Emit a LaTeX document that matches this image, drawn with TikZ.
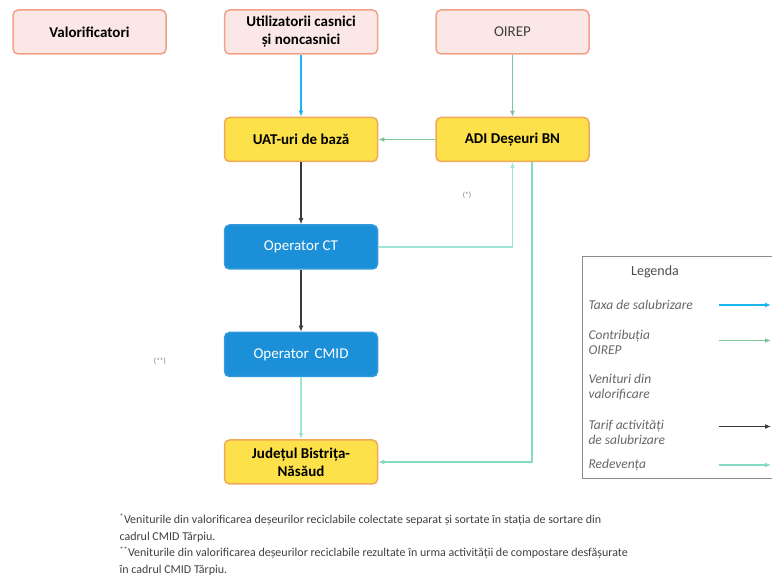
\documentclass[tikz,border=0pt]{standalone}
\usepackage{fontspec}
\setmainfont{Carlito}
\usetikzlibrary{positioning,arrows.meta}

\definecolor{pinkfill}{HTML}{FBE8E6}
\definecolor{pinkline}{HTML}{F2A187}
\definecolor{yelfill}{HTML}{FCE14A}
\definecolor{yelline}{HTML}{F0A85A}
\definecolor{bluefill}{HTML}{1C8FD9}
\definecolor{taxacol}{HTML}{1BB4EE}
\definecolor{oirepcol}{HTML}{7CC49C}
\definecolor{tarifcol}{HTML}{3A3A3A}
\definecolor{venitcol}{HTML}{9FE5D5}
\definecolor{redevcol}{HTML}{86D9C2}

\tikzset{
  box/.style={rounded corners=5pt, line width=1.5pt, minimum width=153pt,
    minimum height=44pt, align=center, font=\fontsize{15}{18}\selectfont},
  pinkbox/.style={box, draw=pinkline, fill=pinkfill},
  yelbox/.style={box, draw=yelline, fill=yelfill, font=\fontsize{15}{18}\selectfont\bfseries},
  bluebox/.style={box, draw=bluefill!90!white, fill=bluefill, text=white},
  flow/.style={line width=1.6pt, -{Latex[length=6pt,width=5pt]}},
  taxa/.style={flow, draw=taxacol},
  oirep/.style={flow, draw=oirepcol},
  tarif/.style={flow, draw=tarifcol},
  venit/.style={flow, draw=venitcol},
  redev/.style={flow, draw=redevcol},
  leg/.style={anchor=west, align=left, text=black!60, font=\fontsize{13.5}{15}\selectfont\itshape},
  note/.style={text=black!55, font=\fontsize{7.5}{8}\selectfont},
}

\begin{document}
\begin{tikzpicture}[node distance=62pt and 57pt]
  \useasboundingbox (0,0) rectangle (772pt,-585pt);

  % top row
  \node[pinkbox, font=\fontsize{15}{18}\selectfont\bfseries] (V) at (89.5pt,-32pt) {Valorificatori} ; %
  \node[pinkbox, font=\fontsize{15}{18}\selectfont\bfseries, right=of V] (U) {Utilizatorii casnici\\ și noncasnici} ; %
  \node[pinkbox, text=black!75, right=of U] (O) {OIREP} ; %

  % main column
  \node[yelbox, below=of U] (UAT) {UAT-uri de bază} ; %
  \node[yelbox, below=of O] (ADI) {ADI Deșeuri BN} ; %
  \node[bluebox, below=of UAT] (CT) {Operator CT} ; %
  \node[bluebox, below=of CT] (CMID) {Operator\, CMID} ; %
  \node[yelbox, below=of CMID] (J) {Județul Bistrița-\\ Năsăud} ; %

  \node[note] (n1) at (467pt,-195pt) {(*)} ; %
  \node[note] (n2) at (160pt,-361pt) {(**)} ; %

  \draw[taxa] (U) -- (UAT) ;
  \draw[oirep] (O) -- (ADI) ;
  \draw[oirep] (ADI) -- (UAT) ;
  \draw[tarif] (UAT) -- (CT) ;
  \draw[tarif] (CT) -- (CMID) ;
  \draw[venit] (CMID) -- (J) ;
  \draw[venit] (CT) -| (ADI) ;
  \draw[redev] ([xshift=19.5pt]ADI.south) |- (J) ;

  % legend
  \draw[black!45, line width=1pt] (582pt,-257pt) rectangle (790pt,-479pt) ;
  \node[text=black!70, font=\fontsize{14}{16}\selectfont] (L) at (655pt,-272pt) {Legenda} ; %
  \node[leg] (l1) at (585pt,-305pt) {Taxa de salubrizare} ; %
  \node[leg] (l2) at (585pt,-342.5pt) {Contribuția\\ OIREP} ; %
  \node[leg] (l3) at (585pt,-387pt) {Venituri din\\ valorificare} ; %
  \node[leg] (l4) at (585pt,-432.5pt) {Tarif activități\\ de salubrizare} ; %
  \node[leg] (l5) at (585pt,-465pt) {Redevența} ; %
  \coordinate (la) at (719pt,0) ;
  \coordinate (lb) at (771pt,0) ;
  \draw[taxa] (l1.west -| la) -- (l1.west -| lb) ;
  \draw[oirep] ([yshift=2pt]l2.west -| la) -- ([yshift=2pt]l2.west -| lb) ;
  \draw[tarif] ([yshift=6pt]l4.west -| la) -- ([yshift=6pt]l4.west -| lb) ;
  \draw[redev] (l5.west -| la) -- (l5.west -| lb) ;

  % footnotes
  \node[anchor=north west, align=left, text=black!75,
    font=\fontsize{12}{16.5}\selectfont] (F) at (116pt,-510pt)
    {\textsuperscript{*}Veniturile din valorificarea deșeurilor reciclabile colectate separat și sortate în stația de sortare din\\
     cadrul CMID Tărpiu.\\
     \textsuperscript{**}Veniturile din valorificarea deșeurilor reciclabile rezultate în urma activității de compostare desfășurate\\
     în cadrul CMID Tărpiu.} ; %

\end{tikzpicture}
\end{document}
